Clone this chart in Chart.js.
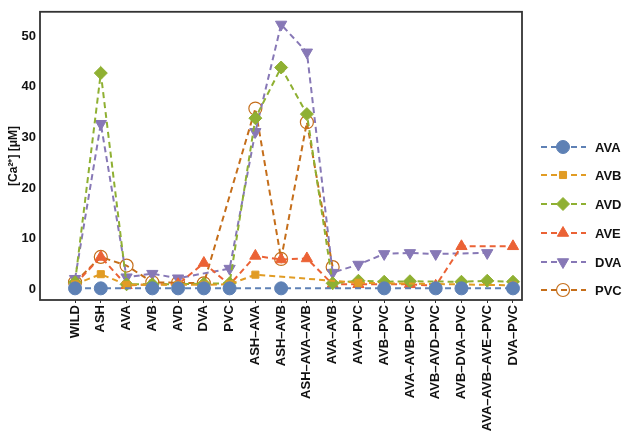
<!DOCTYPE html>
<html>
<head>
<meta charset="utf-8">
<script src="https://cdn.jsdelivr.net/npm/chart.js@4/dist/chart.umd.min.js"></script>
<style>
  html, body { margin: 0; padding: 0; background: #fff; }
  #wrap { width: 625px; height: 436px; }
</style>
</head>
<body>
<div id="wrap"><canvas id="c" width="625" height="436"></canvas></div>
<script>
const categories = ['WILD', 'ASH', 'AVA', 'AVB', 'AVD', 'DVA', 'PVC', 'ASH–AVA', 'ASH–AVB',
  'ASH–AVA–AVB', 'AVA–AVB', 'AVA–PVC', 'AVB–PVC', 'AVA–AVB–PVC', 'AVB–AVD–PVC',
  'AVB–DVA–PVC', 'AVA–AVB–AVE–PVC', 'DVA–PVC'];

const ava = [0.2, 0.2, null, 0.2, 0.2, 0.2, 0.2, null, 0.2, null, null, null, 0.2, null, 0.2, 0.2, null, 0.2];
const avb = [1.0, 3.0, 0.9, null, 0.9, 0.9, 1.0, 2.9, null, null, null, 1.3, null, null, null, null, null, 0.8];
const avd = [1.4, 42.7, 1.0, 1.0, null, 1.1, 1.2, 33.8, 43.8, 34.6, 1.2, 1.7, 1.5, 1.6, null, 1.5, 1.7, 1.5];
const ave = [1.0, 6.4, 0.8, 1.0, 1.0, 5.2, 0.9, 6.6, 5.9, 6.1, 1.0, 1.0, 1.0, 1.0, 0.7, 8.5, null, 8.5];
const dva = [2.1, 32.7, 2.4, 3.1, 2.2, null, 4.1, 31.1, 52.3, 46.8, 3.3, 4.9, 7.0, 7.2, 7.0, null, 7.2, null];
const pvc = [1.4, 6.4, 4.7, 1.4, 1.3, 1.2, null, 35.7, 6.0, 33.0, 4.4, null, null, null, null, null, null, null];

const yTicks = [0, 10, 20, 30, 40, 50];

const seriesNames = ['AVA', 'AVB', 'AVD', 'AVE', 'DVA', 'PVC'];
const seriesData = [ava, avb, avd, ave, dva, pvc];
const colors = ['#5e81b5', '#e19c24', '#8fb032', '#eb6235', '#8778b6', '#c56e1a'];
const styles = ['circle', 'rect', 'rectRot', 'triangle', 'triangle', 'circle'];
const radii = [6.5, 5, 6.5, 6.5, 6.5, 6.5];

const FONT = '"Liberation Sans", Arial, sans-serif';

const datasets = seriesNames.map((name, i) => ({
  label: name,
  data: seriesData[i].map((v, j) => ({ x: j, y: v })),
  borderColor: colors[i],
  backgroundColor: i === 5 ? 'rgba(255,255,255,0)' : colors[i],
  pointBackgroundColor: i === 5 ? 'rgba(255,255,255,0)' : colors[i],
  pointBorderColor: colors[i],
  pointBorderWidth: i === 5 ? 1.2 : 1,
  pointStyle: styles[i],
  pointRotation: i === 4 ? 180 : 0,
  pointRadius: radii[i],
  borderWidth: 2,
  borderDash: [6, 4],
  spanGaps: true,
  tension: 0
}));

// frame around the plot, and a legend drawn by hand (dashed line with marker)
const framePlugin = {
  id: 'frame',
  afterDraw(chart) {
    const { ctx, chartArea: a } = chart;
    ctx.save();
    ctx.strokeStyle = '#333';
    ctx.lineWidth = 1.8;
    ctx.strokeRect(a.left, a.top, a.right - a.left, a.bottom - a.top);

    const legendY = [147, 175, 204, 233, 262, 290];
    chart.data.datasets.forEach((ds, i) => {
      const y = legendY[i];
      ctx.setLineDash([6, 4]);
      ctx.strokeStyle = ds.borderColor;
      ctx.lineWidth = 2;
      ctx.beginPath();
      ctx.moveTo(541, y);
      ctx.lineTo(586, y);
      ctx.stroke();
      ctx.setLineDash([]);
      ctx.fillStyle = ds.pointBackgroundColor;
      ctx.strokeStyle = ds.pointBorderColor;
      ctx.lineWidth = ds.pointBorderWidth;
      Chart.helpers.drawPoint(ctx, {
        pointStyle: ds.pointStyle,
        rotation: ds.pointRotation,
        radius: ds.pointRadius,
        borderWidth: ds.pointBorderWidth
      }, 563, y);
      ctx.fillStyle = '#111';
      ctx.font = 'bold 13px ' + FONT;
      ctx.textBaseline = 'middle';
      ctx.fillText(ds.label, 595, y + 1);
    });
    ctx.restore();
  }
};

const chart = new Chart(document.getElementById('c'), {
  type: 'line',
  data: { datasets: datasets },
  options: {
    responsive: false,
    animation: false,
    layout: { padding: { top: 3, right: 103, left: 6, bottom: 0 } },
    plugins: {
      legend: { display: false },
      tooltip: { enabled: false }
    },
    scales: {
      x: {
        type: 'linear',
        min: -1.36,
        max: 17.35,
        afterBuildTicks: (scale) => {
          scale.ticks = categories.map((c, i) => ({ value: i }));
        },
        afterFit: (scale) => { scale.height = 136; },
        border: { display: false },
        grid: { drawOnChartArea: false, drawTicks: true, tickLength: 3, color: '#333' },
        ticks: {
          autoSkip: false,
          minRotation: 90,
          maxRotation: 90,
          padding: 2,
          color: '#111',
          font: { family: FONT, size: 13, weight: 'bold' },
          callback: (v) => categories[v] || ''
        }
      },
      y: {
        min: -2.1,
        max: 54.8,
        afterBuildTicks: (scale) => {
          scale.ticks = yTicks.map(v => ({ value: v }));
        },
        afterFit: (scale) => { scale.width = 34; },
        border: { display: false },
        grid: { drawOnChartArea: false, drawTicks: false },
        title: {
          display: true,
          text: '[Ca²⁺] [μM]',
          color: '#111',
          padding: 0,
          font: { family: FONT, size: 12, weight: 'bold' }
        },
        ticks: {
          padding: 4,
          color: '#111',
          font: { family: FONT, size: 13, weight: 'bold' }
        }
      }
    }
  },
  plugins: [framePlugin]
});
</script>
</body>
</html>
